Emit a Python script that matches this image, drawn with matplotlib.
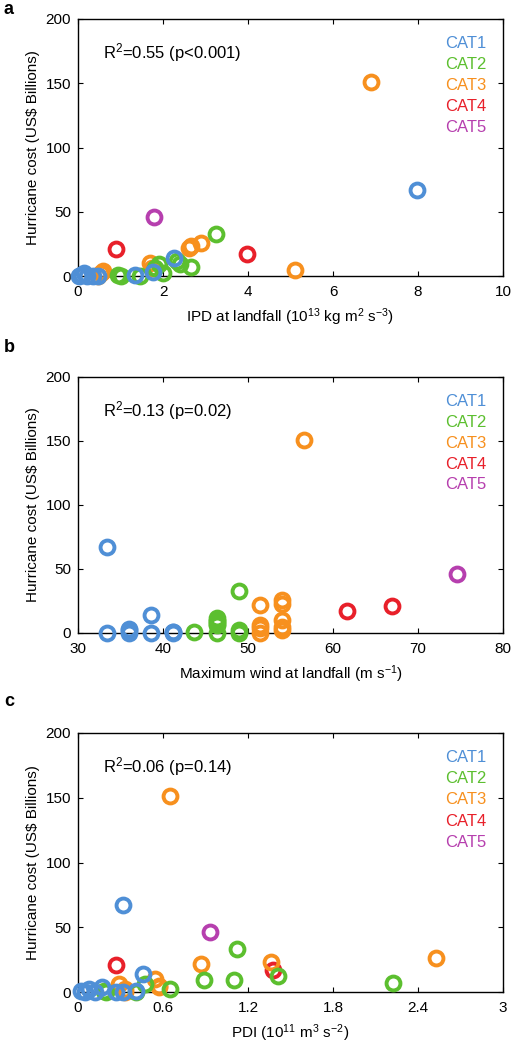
import matplotlib
matplotlib.use("Agg")
import matplotlib.pyplot as plt

plt.rcParams['font.family'] = ['Liberation Sans', 'DejaVu Sans']
plt.rcParams['mathtext.fontset'] = 'custom'
plt.rcParams['mathtext.rm'] = 'Liberation Sans'
plt.rcParams['mathtext.it'] = 'Liberation Sans:italic'
plt.rcParams['mathtext.bf'] = 'Liberation Sans:bold'

# ---------------- data ----------------
categories = ["CAT1", "CAT2", "CAT3", "CAT4", "CAT5"]
colors = ["#4f8fd6", "#5cbf2f", "#f7901e", "#e8202a", "#b63fae"]

# hurricane cost (US$ billions) per category
cost_cat1 = [67, 14, 3.5, 1, 0, 0, 0, 0.5, 2, 0]
cost_cat2 = [33, 12, 9.5, 9, 7, 6, 2, 0.5, 0, 0]
cost_cat3 = [151, 26, 23, 21.5, 10, 6.5, 5, 4, 2.6, 0]
cost_cat4 = [21, 17]
cost_cat5 = [46]

# IPD at landfall (1e13 kg m2 s-3)
ipd_cat1 = [7.98, 2.27, 1.77, 1.34, 0.46, 0.35, 0.20, 0.08, 0.15, 0.02]
ipd_cat2 = [3.25, 2.32, 1.90, 2.40, 2.65, 1.80, 2.01, 0.93, 1.47, 1.01]
ipd_cat3 = [6.89, 2.90, 2.65, 2.62, 1.70, 1.75, 5.10, 0.59, 0.55, 0.46]
ipd_cat4 = [0.90, 3.98]
ipd_cat5 = [1.79]

# maximum wind at landfall (m/s)
wind_cat1 = [33.4, 38.6, 36.0, 41.2, 36.0, 38.6, 33.4, 41.2, 36.0, 41.2]
wind_cat2 = [48.9, 46.3, 46.3, 46.3, 46.3, 46.3, 48.9, 43.7, 46.3, 48.9]
wind_cat3 = [56.6, 54.0, 54.0, 51.4, 54.0, 51.4, 54.0, 51.4, 54.0, 51.4]
wind_cat4 = [66.9, 61.7]
wind_cat5 = [74.6]

# PDI (1e11 m3 s-2)
pdi_cat1 = [0.32, 0.46, 0.17, 0.41, 0.32, 0.12, 0.05, 0.02, 0.08, 0.27]
pdi_cat2 = [1.12, 1.41, 0.89, 1.10, 2.22, 0.47, 0.647, 0.18, 0.41, 0.20]
pdi_cat3 = [0.652, 2.53, 1.36, 0.866, 0.546, 0.29, 0.57, 0.57, 0.33, 0.33]
pdi_cat4 = [0.266, 1.376]
pdi_cat5 = [0.93]

costs = [cost_cat1, cost_cat2, cost_cat3, cost_cat4, cost_cat5]
panels = [
    dict(letter="a", xs=[ipd_cat1, ipd_cat2, ipd_cat3, ipd_cat4, ipd_cat5],
         xlim=(0, 10), xticks=[0, 2, 4, 6, 8, 10], xticklabels=["0", "2", "4", "6", "8", "10"],
         xlabel="IPD at landfall (10$^{13}$ kg m$^{2}$ s$^{-3}$)",
         r2="R$^{2}$=0.55 (p<0.001)"),
    dict(letter="b", xs=[wind_cat1, wind_cat2, wind_cat3, wind_cat4, wind_cat5],
         xlim=(30, 80), xticks=[30, 40, 50, 60, 70, 80], xticklabels=["30", "40", "50", "60", "70", "80"],
         xlabel="Maximum wind at landfall (m s$^{-1}$)",
         r2="R$^{2}$=0.13 (p=0.02)"),
    dict(letter="c", xs=[pdi_cat1, pdi_cat2, pdi_cat3, pdi_cat4, pdi_cat5],
         xlim=(0, 3), xticks=[0, 0.6, 1.2, 1.8, 2.4, 3], xticklabels=["0", "0.6", "1.2", "1.8", "2.4", "3"],
         xlabel="PDI (10$^{11}$ m$^{3}$ s$^{-2}$)",
         r2="R$^{2}$=0.06 (p=0.14)"),
]
yticks = [0, 50, 100, 150, 200]

# ---------------- figure ----------------
W, H = 514, 1043
fig = plt.figure(figsize=(W / 100, H / 100), dpi=100)

ax_px = [(78, 19, 503, 276), (78, 377, 503, 633), (78, 733, 503, 992)]
letter_y = [9, 347, 702]

draw_order = [4, 3, 2, 1, 0]
for p, (x0, y0, x1, y1), ly in zip(panels, ax_px, letter_y):
    ax = fig.add_axes([x0 / W, 1 - y1 / H, (x1 - x0) / W, (y1 - y0) / H])
    for i in draw_order:
        ax.plot(p["xs"][i], costs[i], linestyle="none", marker="o",
                markersize=10, markerfacecolor="none", markeredgecolor=colors[i],
                markeredgewidth=2.8, clip_on=False, zorder=3)
    ax.set_xlim(*p["xlim"])
    ax.set_ylim(0, 200)
    ax.set_xticks(p["xticks"])
    ax.set_xticklabels(p["xticklabels"])
    ax.set_yticks(yticks)
    ax.tick_params(direction="in", top=True, right=True, length=3.5, width=0.8,
                   labelsize=11)
    ax.tick_params(axis="x", pad=6.5)
    ax.tick_params(axis="y", pad=5)
    for s in ax.spines.values():
        s.set_linewidth(1.0)
    ax.set_xlabel(p["xlabel"], fontsize=11, labelpad=5)
    ax.set_ylabel("Hurricane cost (US$ Billions)", fontsize=11, labelpad=4)
    ax.text(0.059, 0.87, p["r2"], transform=ax.transAxes, fontsize=12,
            ha="left", va="center")
    for k, cat in enumerate(categories):
        ax.text(0.864, 0.905 - k * 21 / 257, cat, transform=ax.transAxes,
                fontsize=12, color=colors[k], ha="left", va="center")
    fig.text(4 / W, 1 - ly / H, p["letter"], fontsize=13, fontweight="bold",
             ha="left", va="center")

fig.savefig("out.png", dpi=100)
